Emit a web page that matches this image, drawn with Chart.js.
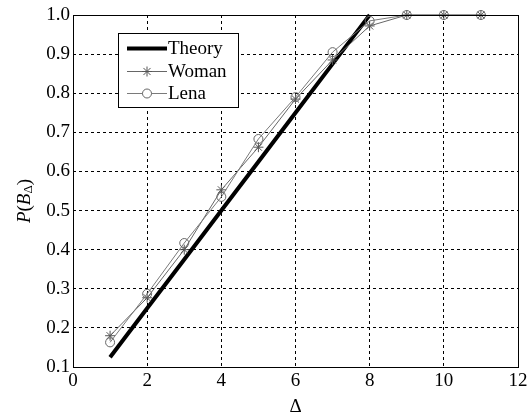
<!DOCTYPE html>
<html><head><meta charset="utf-8">
<script src="https://cdn.jsdelivr.net/npm/chart.js@4.4.1/dist/chart.umd.min.js"></script>
<style>html,body{margin:0;padding:0;background:#fff}canvas{display:block}</style>
</head><body>
<canvas id="c" width="532" height="418"></canvas>
<script>
// ---- data ----
const deltas = [1, 2, 3, 4, 5, 6, 7, 8, 9, 10, 11];
const theoryDeltas = [1, 2, 3, 4, 5, 6, 7, 8];
const theory = [0.125, 0.25, 0.375, 0.5, 0.625, 0.75, 0.875, 1.0];
const woman = [0.18, 0.277, 0.40, 0.553, 0.662, 0.785, 0.885, 0.972, 1.0, 1.0, 1.0];
const lena  = [0.163, 0.287, 0.417, 0.535, 0.683, 0.79, 0.905, 0.985, 1.0, 1.0, 1.0];
const xTicks = [0, 2, 4, 6, 8, 10, 12];
const yTicks = [0.1, 0.2, 0.3, 0.4, 0.5, 0.6, 0.7, 0.8, 0.9, 1.0];
const seriesNames = ['Theory', 'Woman', 'Lena'];

const FONT = '"Liberation Serif"';

// warm up the font on a scratch canvas
(function () {
  const s = document.createElement('canvas').getContext('2d');
  ['22px ', '19px ', 'italic 19px ', '13px '].forEach(f => {
    s.font = f + FONT; s.fillText('Theory Woman Lena 0.123456789 \u0394 P(B)', 0, 20);
  });
})();

function pts(xs, ys) { return xs.map((x, i) => ({x: x, y: ys[i]})); }

function drawStar(ctx, x, y, r) {
  ctx.beginPath();
  ctx.moveTo(x - r, y); ctx.lineTo(x + r, y);
  ctx.moveTo(x, y - r); ctx.lineTo(x, y + r);
  const d = r * 0.7071;
  ctx.moveTo(x - d, y - d); ctx.lineTo(x + d, y + d);
  ctx.moveTo(x - d, y + d); ctx.lineTo(x + d, y - d);
  ctx.stroke();
}

const framePlugin = {
  id: 'frame',
  afterDatasetsDraw(chart) {
    const {ctx, chartArea: a} = chart;
    ctx.save();
    ctx.strokeStyle = '#000';
    ctx.lineWidth = 1;
    ctx.strokeRect(Math.round(a.left) + 0.5, Math.round(a.top) + 0.5,
                   Math.round(a.right - a.left), Math.round(a.bottom - a.top));
    ctx.restore();
  },
  afterDraw(chart) {
    const {ctx, chartArea: a} = chart;
    ctx.save();
    // legend box
    const bx = 118, by = 33, bw = 120, bh = 74;
    ctx.fillStyle = '#fff';
    ctx.fillRect(bx, by, bw, bh);
    ctx.strokeStyle = '#000';
    ctx.lineWidth = 1;
    ctx.strokeRect(bx + 0.5, by + 0.5, bw, bh);
    const rows = [48, 71, 93];
    const ds = chart.data.datasets;
    rows.forEach((ry, i) => {
      const d = ds[i];
      ctx.strokeStyle = d.borderColor;
      ctx.lineWidth = d.borderWidth;
      ctx.beginPath();
      ctx.moveTo(127, ry + 0.5); ctx.lineTo(167, ry + 0.5);
      ctx.stroke();
      ctx.lineWidth = 1;
      ctx.strokeStyle = d.pointBorderColor || d.borderColor;
      if (i === 1) drawStar(ctx, 147, ry + 0.5, 5);
      if (i === 2) {
        ctx.fillStyle = '#fff';
        ctx.beginPath(); ctx.arc(147, ry + 0.5, 4.5, 0, Math.PI * 2); ctx.fill(); ctx.stroke();
      }
      ctx.fillStyle = '#000';
      ctx.font = '19px ' + FONT;
      ctx.textBaseline = 'middle';
      ctx.textAlign = 'left';
      ctx.fillText(seriesNames[i], 168, ry + 1);
    });
    // x title
    ctx.fillStyle = '#000';
    ctx.font = '19px ' + FONT;
    ctx.textAlign = 'center';
    ctx.textBaseline = 'middle';
    ctx.fillText('\u0394', (a.left + a.right) / 2, 407);
    // y title: P(B_Δ)
    ctx.translate(25, (a.top + a.bottom) / 2 + 10);
    ctx.rotate(-Math.PI / 2);
    const parts = [
      {t: 'P', f: 'italic 19px ' + FONT, dy: 0},
      {t: '(', f: '19px ' + FONT, dy: 0},
      {t: 'B', f: 'italic 19px ' + FONT, dy: 0},
      {t: '\u0394', f: '13px ' + FONT, dy: 4},
      {t: ')', f: '19px ' + FONT, dy: 0}
    ];
    let total = 0;
    parts.forEach(p => { ctx.font = p.f; p.w = ctx.measureText(p.t).width; total += p.w; });
    let xx = -total / 2;
    ctx.textAlign = 'left';
    ctx.textBaseline = 'middle';
    parts.forEach(p => { ctx.font = p.f; ctx.fillText(p.t, xx, p.dy); xx += p.w; });
    ctx.restore();
  }
};

function build() {
  new Chart(document.getElementById('c'), {
    type: 'line',
    data: {
      datasets: [
        {
          label: seriesNames[0], data: pts(theoryDeltas, theory),
          borderColor: '#000', borderWidth: 4, pointRadius: 0, order: 2, clip: 6
        },
        {
          label: seriesNames[1], data: pts(deltas, woman),
          borderColor: '#666', borderWidth: 1, pointStyle: 'star', pointRadius: 5,
          pointBorderColor: '#555', pointBorderWidth: 1, pointBackgroundColor: 'rgba(0,0,0,0)',
          order: 1, clip: 8
        },
        {
          label: seriesNames[2], data: pts(deltas, lena),
          borderColor: '#7a7a7a', borderWidth: 1, pointStyle: 'circle', pointRadius: 4.5,
          pointBorderColor: '#666', pointBorderWidth: 1, pointBackgroundColor: 'rgba(0,0,0,0)',
          order: 0, clip: 8
        }
      ]
    },
    options: {
      responsive: false,
      devicePixelRatio: 1,
      animation: false,
      layout: {padding: {left: 0, right: 14, top: 15, bottom: 0}},
      plugins: {legend: {display: false}, tooltip: {enabled: false}},
      elements: {line: {tension: 0}},
      scales: {
        x: {
          type: 'linear', min: 0, max: 12,
          afterBuildTicks: s => { s.ticks = xTicks.map(v => ({value: v})); },
          afterFit: s => { s.height = 51; },
          grid: {color: '#000', lineWidth: 1, drawTicks: false},
          border: {display: false, dash: [3, 3]},
          ticks: {color: '#000', font: {family: FONT, size: 19}, padding: 3, maxRotation: 0,
                  callback: v => String(v)}
        },
        y: {
          type: 'linear', min: 0.1, max: 1.0,
          afterBuildTicks: s => { s.ticks = yTicks.map(v => ({value: v})); },
          afterFit: s => { s.width = 73; },
          grid: {color: '#000', lineWidth: 1, drawTicks: false},
          border: {display: false, dash: [3, 3]},
          ticks: {color: '#000', font: {family: FONT, size: 19}, padding: 3,
                  callback: v => Number(v).toFixed(1)}
        }
      }
    },
    plugins: [framePlugin]
  });
}

document.fonts.load('19px ' + FONT).then(build, build);
</script>
</body></html>
